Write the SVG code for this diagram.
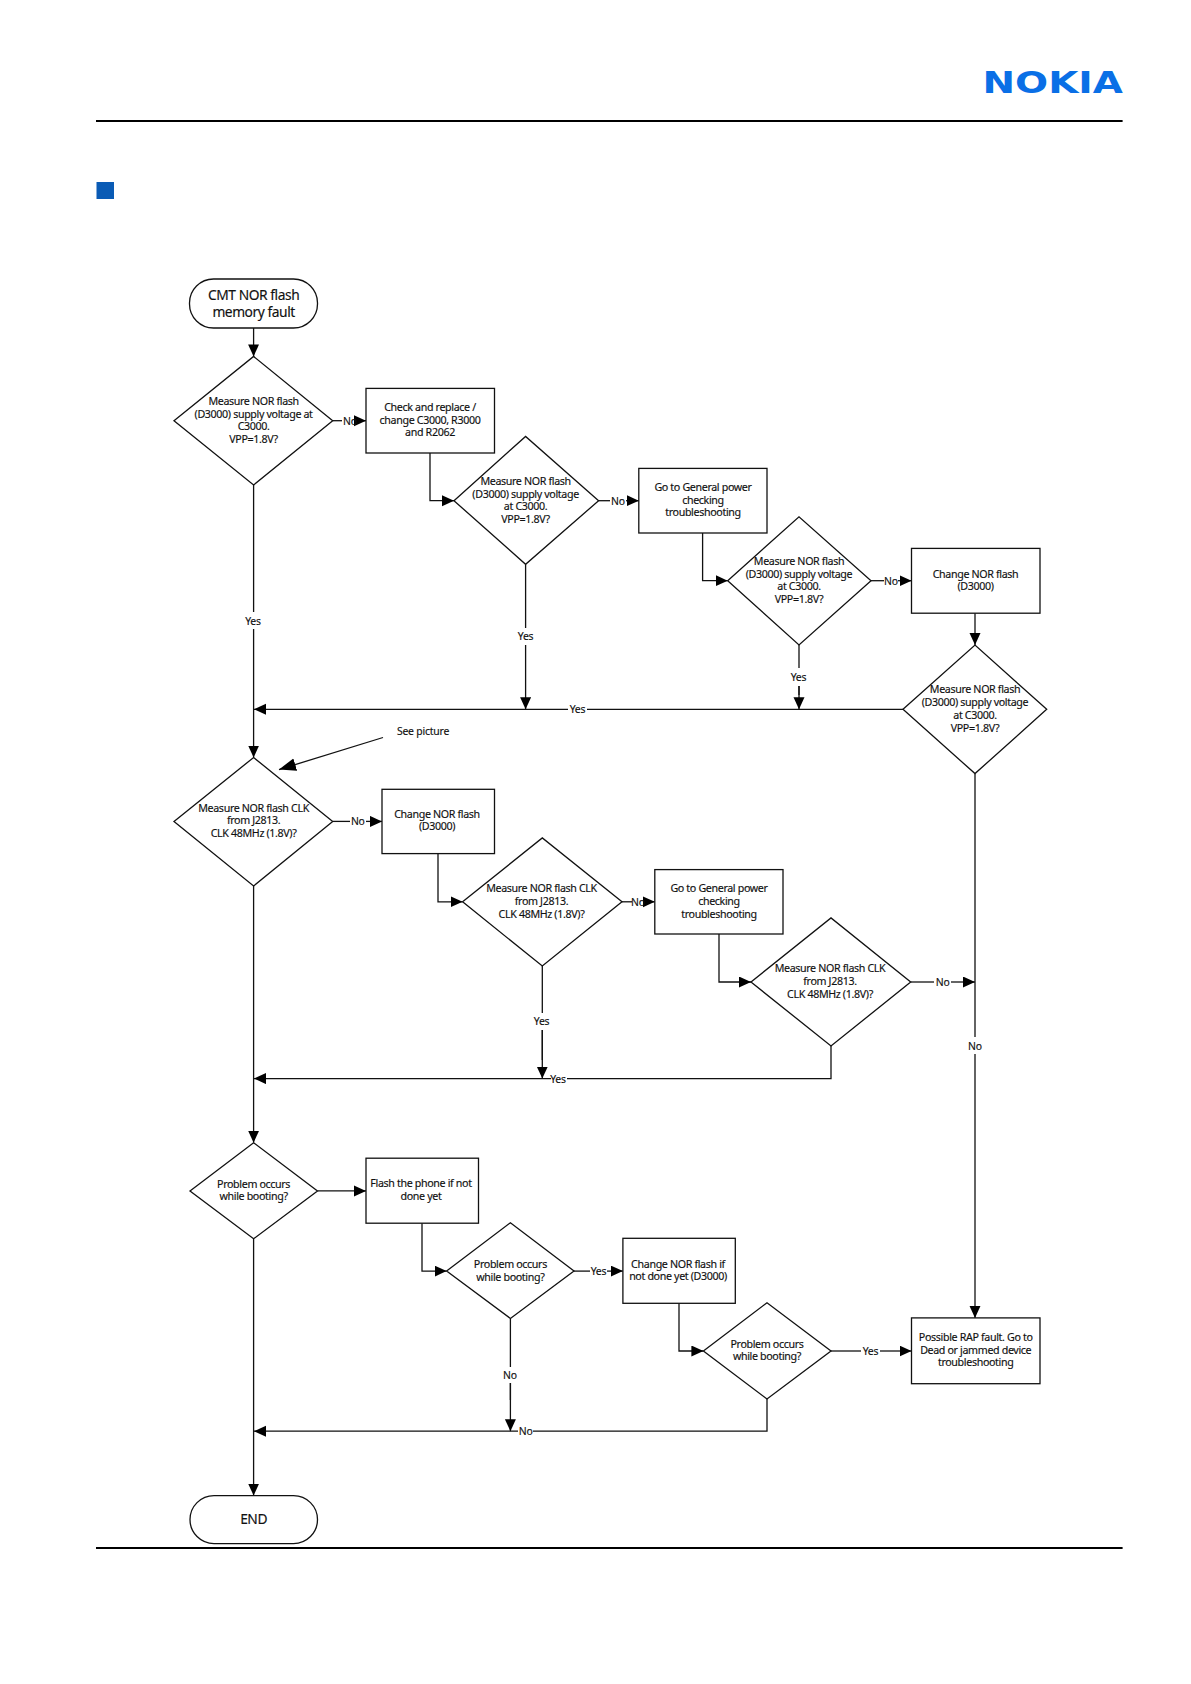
<svg xmlns="http://www.w3.org/2000/svg" width="1191" height="1684" viewBox="0 0 1191 1684">
<style>
text{font-family:"Noto Sans","Liberation Sans",sans-serif;font-size:10.7px;letter-spacing:-.36px;fill:#111;text-anchor:middle;stroke:#111;stroke-width:.15}
.big{font-size:13.8px;letter-spacing:-.45px}
.lb{font-size:10.4px;letter-spacing:-.2px}
.n{fill:#fff;stroke:#111;stroke-width:1.3}
.c{fill:none;stroke:#111;stroke-width:1.3}
.a{marker-end:url(#ah)}
.b{marker-end:url(#ab)}
.rule{stroke:#000;stroke-width:2;fill:none}
</style>
<defs><marker id="ah" markerUnits="userSpaceOnUse" markerWidth="13" markerHeight="12" refX="12" refY="5.5" orient="auto"><path d="M0 0L12 5.5L0 11Z" fill="#000"/></marker>
<marker id="ab" markerUnits="userSpaceOnUse" markerWidth="18" markerHeight="14" refX="17" refY="6.5" orient="auto"><path d="M0 0L17 6.5L0 13Z" fill="#000"/></marker></defs>
<rect width="1191" height="1684" fill="#fff"/>
<g id="page">
<path class="rule" d="M96 121H1122.6M96 1548H1122.6"/>
<rect x="96.5" y="182" width="17.5" height="17" fill="#0a5bb5"/>
<text x="982.5" y="92.7" textLength="140.5" lengthAdjust="spacingAndGlyphs" style="font-family:'DejaVu Sans',sans-serif;font-weight:700;font-size:30.5px;letter-spacing:0;stroke:none;fill:#0a6fe6;text-anchor:start">NOKIA</text>
</g>
<g id="connectors">
<path class="c a" d="M253.6 328V356.4"/>
<path class="c" d="M332.7 420.7H342"/><path class="c a" d="M354 420.7H366"/>
<path class="c" d="M253.6 485V612M253.6 629V700"/><path class="c a" d="M253.6 700V757.5"/>
<path class="c a" d="M430 453V500.7H454"/>
<path class="c" d="M598.6 500.7H610"/><path class="c a" d="M626 500.7H638.8"/>
<path class="c a" d="M702.6 533V580.7H727.7"/>
<path class="c" d="M871 580.7H884"/><path class="c a" d="M898 580.7H911.5"/>
<path class="c a" d="M975 613.2V645"/>
<path class="c" d="M525.6 564.3V628M525.6 645V690"/><path class="c a" d="M525.6 690V709.3"/>
<path class="c" d="M799 645V668M799 686V695"/><path class="c a" d="M799 686V709.3"/>
<path class="c" d="M903 709.3H587"/><path class="c a" d="M568 709.3H254"/>
<path class="c b" d="M383 737.5L279 769.6"/>
<path class="c" d="M332.7 821.4H350"/><path class="c a" d="M366 821.4H382"/>
<path class="c a" d="M438 853.6V901.8H462.6"/>
<path class="c" d="M622 901.8H632"/><path class="c a" d="M644 901.8H654.8"/>
<path class="c a" d="M719 934V982H751"/>
<path class="c" d="M910.7 982H934"/><path class="c a" d="M951 982H975"/>
<path class="c" d="M975 773.6V1037M975 1054V1200"/><path class="c a" d="M975 1200V1317.9"/>
<path class="c" d="M542.3 966V1013M542.3 1030V1060"/><path class="c a" d="M542.3 1030V1078.6"/>
<path class="c" d="M831 1046V1078.6H567"/><path class="c a" d="M551 1078.6H254"/>
<path class="c" d="M253.6 886V1100"/><path class="c a" d="M253.6 1100V1142.7"/>
<path class="c a" d="M317.5 1190.9H366"/>
<path class="c a" d="M422 1223.2V1271.1H446.6"/>
<path class="c" d="M574 1271.1H590"/><path class="c a" d="M607 1271.1H622.9"/>
<path class="c a" d="M679 1303.3V1351H703.4"/>
<path class="c" d="M831 1351H861"/><path class="c a" d="M880 1351H911.5"/>
<path class="c" d="M510.4 1318.4V1367M510.4 1383V1400"/><path class="c a" d="M510.4 1383V1431.2"/>
<path class="c" d="M767 1399V1431.2H533"/><path class="c a" d="M518 1431.2H254"/>
<path class="c a" d="M253.6 1238.8V1495.6"/>
</g>
<g id="labels">
<text class="lb" x="350" y="424.7">No</text>
<text class="lb" x="253" y="624.7">Yes</text>
<text class="lb" x="618" y="504.7">No</text>
<text class="lb" x="891" y="584.7">No</text>
<text class="lb" x="525.6" y="640.4">Yes</text>
<text class="lb" x="798.5" y="680.8">Yes</text>
<text class="lb" x="577.5" y="713.3">Yes</text>
<text class="lb" x="423" y="735.4">See picture</text>
<text class="lb" x="357.8" y="825.4">No</text>
<text class="lb" x="638" y="905.8">No</text>
<text class="lb" x="942.6" y="986">No</text>
<text class="lb" x="975" y="1049.7">No</text>
<text class="lb" x="541.6" y="1025.4">Yes</text>
<text class="lb" x="558" y="1082.6">Yes</text>
<text class="lb" x="598.5" y="1275.1">Yes</text>
<text class="lb" x="870.5" y="1355">Yes</text>
<text class="lb" x="510" y="1378.7">No</text>
<text class="lb" x="525.6" y="1435.2">No</text>
</g>
<g id="start"><rect class="n" x="189.5" y="279" width="128" height="49" rx="24" ry="24"/><text class="big"><tspan x="253.6" y="299.5">CMT NOR flash</tspan><tspan x="253.6" y="316.5">memory fault</tspan></text></g>
<g id="d1"><path class="n" d="M174 420.7L253.6 356.4L332.7 420.7L253.6 485Z"/><text><tspan x="253.6" y="404.7">Measure NOR flash</tspan><tspan x="253.6" y="417.5">(D3000) supply voltage at</tspan><tspan x="253.6" y="430.4">C3000.</tspan><tspan x="253.6" y="443.2">VPP=1.8V?</tspan></text></g>
<g id="r1"><rect class="n" x="366" y="388.4" width="128.5" height="64.6"/><text><tspan x="430" y="410.7">Check and replace /</tspan><tspan x="430" y="423.5">change C3000,  R3000</tspan><tspan x="430" y="436.4">and R2062</tspan></text></g>
<g id="d2"><path class="n" d="M454 500.7L525.6 436.4L598.6 500.7L525.6 564.3Z"/><text><tspan x="525.6" y="484.7">Measure NOR flash</tspan><tspan x="525.6" y="497.5">(D3000) supply voltage</tspan><tspan x="525.6" y="510.4">at C3000.</tspan><tspan x="525.6" y="523.2">VPP=1.8V?</tspan></text></g>
<g id="r2"><rect class="n" x="638.8" y="468.4" width="128.2" height="64.6"/><text><tspan x="703" y="490.7">Go to General power</tspan><tspan x="703" y="503.5">checking</tspan><tspan x="703" y="516.4">troubleshooting</tspan></text></g>
<g id="d3"><path class="n" d="M727.7 580.7L799 516.8L871 580.7L799 645Z"/><text><tspan x="799" y="564.7">Measure NOR flash</tspan><tspan x="799" y="577.5">(D3000) supply voltage</tspan><tspan x="799" y="590.4">at C3000.</tspan><tspan x="799" y="603.2">VPP=1.8V?</tspan></text></g>
<g id="r3"><rect class="n" x="911.5" y="548.4" width="128.5" height="64.8"/><text><tspan x="975.5" y="577.5">Change NOR flash</tspan><tspan x="975.5" y="590.3">(D3000)</tspan></text></g>
<g id="d4"><path class="n" d="M903 709.3L975 645L1046.7 709.3L975 773.6Z"/><text><tspan x="975" y="693">Measure NOR flash</tspan><tspan x="975" y="705.8">(D3000) supply voltage</tspan><tspan x="975" y="718.7">at C3000.</tspan><tspan x="975" y="731.5">VPP=1.8V?</tspan></text></g>
<g id="d5"><path class="n" d="M174 821.4L253.6 757.5L332.7 821.4L253.6 886Z"/><text><tspan x="253.6" y="811.5">Measure NOR flash CLK</tspan><tspan x="253.6" y="824.4">from J2813.</tspan><tspan x="253.6" y="837.2">CLK 48MHz (1.8V)?</tspan></text></g>
<g id="r4"><rect class="n" x="382" y="789.3" width="112.5" height="64.3"/><text><tspan x="437" y="817.5">Change NOR flash</tspan><tspan x="437" y="830.3">(D3000)</tspan></text></g>
<g id="d6"><path class="n" d="M462.6 901.8L542.3 837.9L622 901.8L542.3 966Z"/><text><tspan x="541.5" y="892">Measure NOR flash CLK</tspan><tspan x="541.5" y="904.8">from J2813.</tspan><tspan x="541.5" y="917.6">CLK 48MHz (1.8V)?</tspan></text></g>
<g id="r5"><rect class="n" x="654.8" y="869.6" width="128.2" height="64.4"/><text><tspan x="719" y="892">Go to General power</tspan><tspan x="719" y="904.8">checking</tspan><tspan x="719" y="917.6">troubleshooting</tspan></text></g>
<g id="d7"><path class="n" d="M751 982L831 917.9L910.7 982L831 1046Z"/><text><tspan x="830" y="972.1">Measure NOR flash CLK</tspan><tspan x="830" y="985">from J2813.</tspan><tspan x="830" y="997.8">CLK 48MHz (1.8V)?</tspan></text></g>
<g id="d8"><path class="n" d="M190 1190.9L253.6 1142.7L317.5 1190.9L253.6 1238.8Z"/><text><tspan x="253.6" y="1187.5">Problem occurs</tspan><tspan x="253.6" y="1200.3">while booting?</tspan></text></g>
<g id="r6"><rect class="n" x="366" y="1158.2" width="112.5" height="65"/><text><tspan x="421" y="1187">Flash the phone if not</tspan><tspan x="421" y="1199.8">done yet</tspan></text></g>
<g id="d9"><path class="n" d="M446.6 1271.1L510.4 1222.7L574 1271.1L510.4 1318.4Z"/><text><tspan x="510.4" y="1267.7">Problem occurs</tspan><tspan x="510.4" y="1280.5">while booting?</tspan></text></g>
<g id="r7"><rect class="n" x="622.9" y="1238.3" width="112.4" height="65"/><text><tspan x="678" y="1267.5">Change NOR flash if</tspan><tspan x="678" y="1280.3">not done yet (D3000)</tspan></text></g>
<g id="d10"><path class="n" d="M703.4 1351L767 1302.7L831 1351L767 1399Z"/><text><tspan x="767" y="1347.5">Problem occurs</tspan><tspan x="767" y="1360.3">while booting?</tspan></text></g>
<g id="r8"><rect class="n" x="911.5" y="1317.9" width="128.5" height="65.8"/><text><tspan x="975.7" y="1340.7">Possible RAP fault. Go to</tspan><tspan x="975.7" y="1353.5">Dead or jammed device</tspan><tspan x="975.7" y="1366.4">troubleshooting</tspan></text></g>
<g id="end"><rect class="n" x="190" y="1495.6" width="127.5" height="48" rx="24" ry="24"/><text class="big" x="253.6" y="1524">END</text></g>
</svg>
